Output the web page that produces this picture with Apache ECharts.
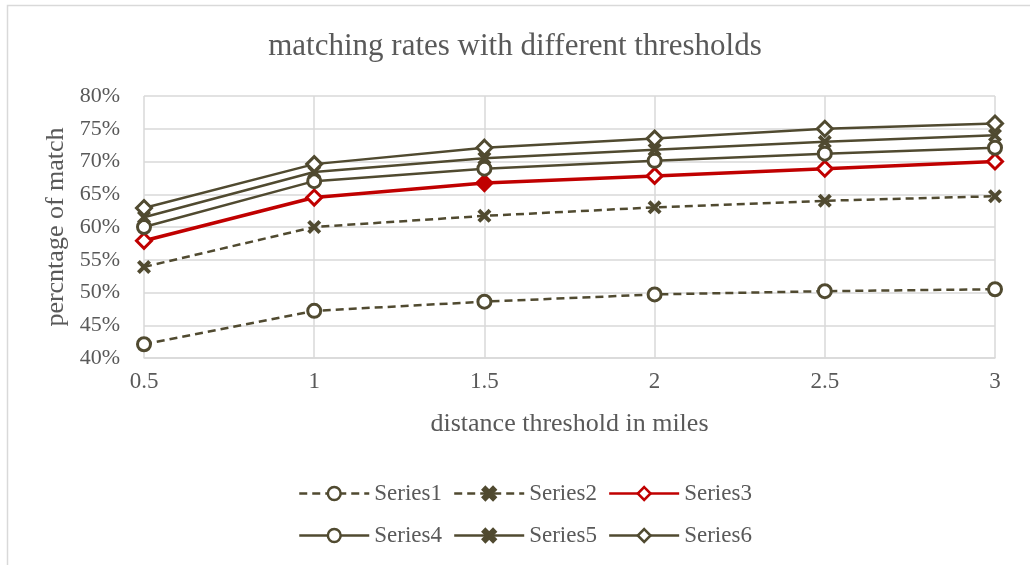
<!DOCTYPE html>
<html>
<head>
<meta charset="utf-8">
<script src="https://cdn.jsdelivr.net/npm/echarts@6/dist/echarts.min.js"></script>
<style>
  html, body { margin: 0; padding: 0; background: #fff; }
  #chart { width: 1030px; height: 565px; }
</style>
</head>
<body>
<div id="chart"></div>
<script>
// Distance thresholds (miles) along the x axis
const thresholds = ['0.5', '1', '1.5', '2', '2.5', '3'];

// Match percentages per series
const series1 = [42.1, 47.2, 48.6, 49.7, 50.2, 50.5];
const series2 = [53.9, 60.0, 61.7, 63.0, 64.0, 64.7];
const series3 = [57.9, 64.5, 66.7, 67.8, 68.9, 70.0];
const series4 = [60.0, 67.0, 68.9, 70.1, 71.2, 72.1];
const series5 = [61.5, 68.4, 70.5, 71.8, 73.0, 74.0];
const series6 = [62.9, 69.6, 72.1, 73.5, 75.0, 75.8];

const OLIVE = '#504A30';
const RED = '#C00000';
const FONT = '"Liberation Serif", "Times New Roman", serif';
const TEXT = '#595959';

// Filled "x" outline used as the cross marker
const CROSS = 'path://M2,0 L5,3 L8,0 L10,2 L7,5 L10,8 L8,10 L5,7 L2,10 L0,8 L3,5 L0,2 Z';

function hollow(name, data, symbol, size, dashed) {
  return {
    name, type: 'line', data,
    symbol, symbolSize: size,
    showAllSymbol: true,
    lineStyle: { color: OLIVE, width: 2.5, type: dashed ? [8, 5] : 'solid' },
    itemStyle: { color: '#fff', borderColor: OLIVE, borderWidth: 3 },
    emphasis: { disabled: true },
    animation: false
  };
}

function cross(name, data, dashed) {
  return {
    name, type: 'line', data,
    symbol: CROSS, symbolSize: 14,
    lineStyle: { color: OLIVE, width: 2.5, type: dashed ? [8, 5] : 'solid' },
    itemStyle: { color: OLIVE, borderColor: OLIVE, borderWidth: 0 },
    emphasis: { disabled: true },
    animation: false
  };
}

// Series3 is red; the point at 1.5 miles is drawn filled
const series3Data = series3.map((v, i) => i === 2
  ? { value: v, itemStyle: { color: RED, borderColor: RED } }
  : v);

const chart = echarts.init(document.getElementById('chart'));

const legendBase = {
  left: 293,
  itemWidth: 70, itemHeight: 16, itemGap: 11,
  lineStyle: { width: 2.5 },
  itemStyle: { borderWidth: 2.5 },
  textStyle: { fontFamily: FONT, fontSize: 23, color: TEXT }
};

chart.setOption({
  animation: false,
  backgroundColor: '#fff',
  graphic: [{
    type: 'rect', z: -10, silent: true,
    shape: { x: 7.5, y: 5.5, width: 1100, height: 700 },
    style: { fill: 'none', stroke: '#d9d9d9', lineWidth: 1.5 }
  }],
  title: {
    text: 'matching rates with different thresholds',
    left: 'center', top: 26,
    textStyle: { fontFamily: FONT, fontSize: 31, fontWeight: 'normal', color: TEXT }
  },
  grid: { left: 144, right: 35, top: 96, bottom: 207 },
  legend: [
    Object.assign({ data: ['Series1', 'Series2', 'Series3'], top: 477 }, legendBase),
    Object.assign({ data: ['Series4', 'Series5', 'Series6'], top: 519 }, legendBase)
  ],
  xAxis: {
    type: 'category',
    data: thresholds,
    boundaryGap: false,
    name: 'distance threshold in miles',
    nameLocation: 'middle',
    nameGap: 53,
    nameTextStyle: { fontFamily: FONT, fontSize: 26, color: TEXT },
    axisLine: { show: true, lineStyle: { color: '#d9d9d9', width: 1.5 } },
    axisTick: { show: false },
    axisLabel: { fontFamily: FONT, fontSize: 23, color: TEXT, margin: 12 },
    splitLine: { show: true, lineStyle: { color: '#d9d9d9', width: 1.5 } }
  },
  yAxis: {
    type: 'value',
    min: 40, max: 80, interval: 5,
    name: 'percntage of match',
    nameLocation: 'middle',
    nameGap: 64,
    nameTextStyle: { fontFamily: FONT, fontSize: 26, color: TEXT },
    axisLine: { show: false },
    axisTick: { show: false },
    axisLabel: { fontFamily: FONT, fontSize: 22, color: TEXT, margin: 24, formatter: '{value}%' },
    splitLine: { show: true, lineStyle: { color: '#d9d9d9', width: 1.5 } }
  },
  series: [
    hollow('Series1', series1, 'circle', 13, true),
    cross('Series2', series2, true),
    Object.assign(hollow('Series3', series3Data, 'diamond', 15, false), {
      lineStyle: { color: RED, width: 3.5, type: 'solid' },
      itemStyle: { color: '#fff', borderColor: RED, borderWidth: 3 }
    }),
    hollow('Series4', series4, 'circle', 13, false),
    cross('Series5', series5, false),
    hollow('Series6', series6, 'diamond', 15, false)
  ]
});
</script>
</body>
</html>
